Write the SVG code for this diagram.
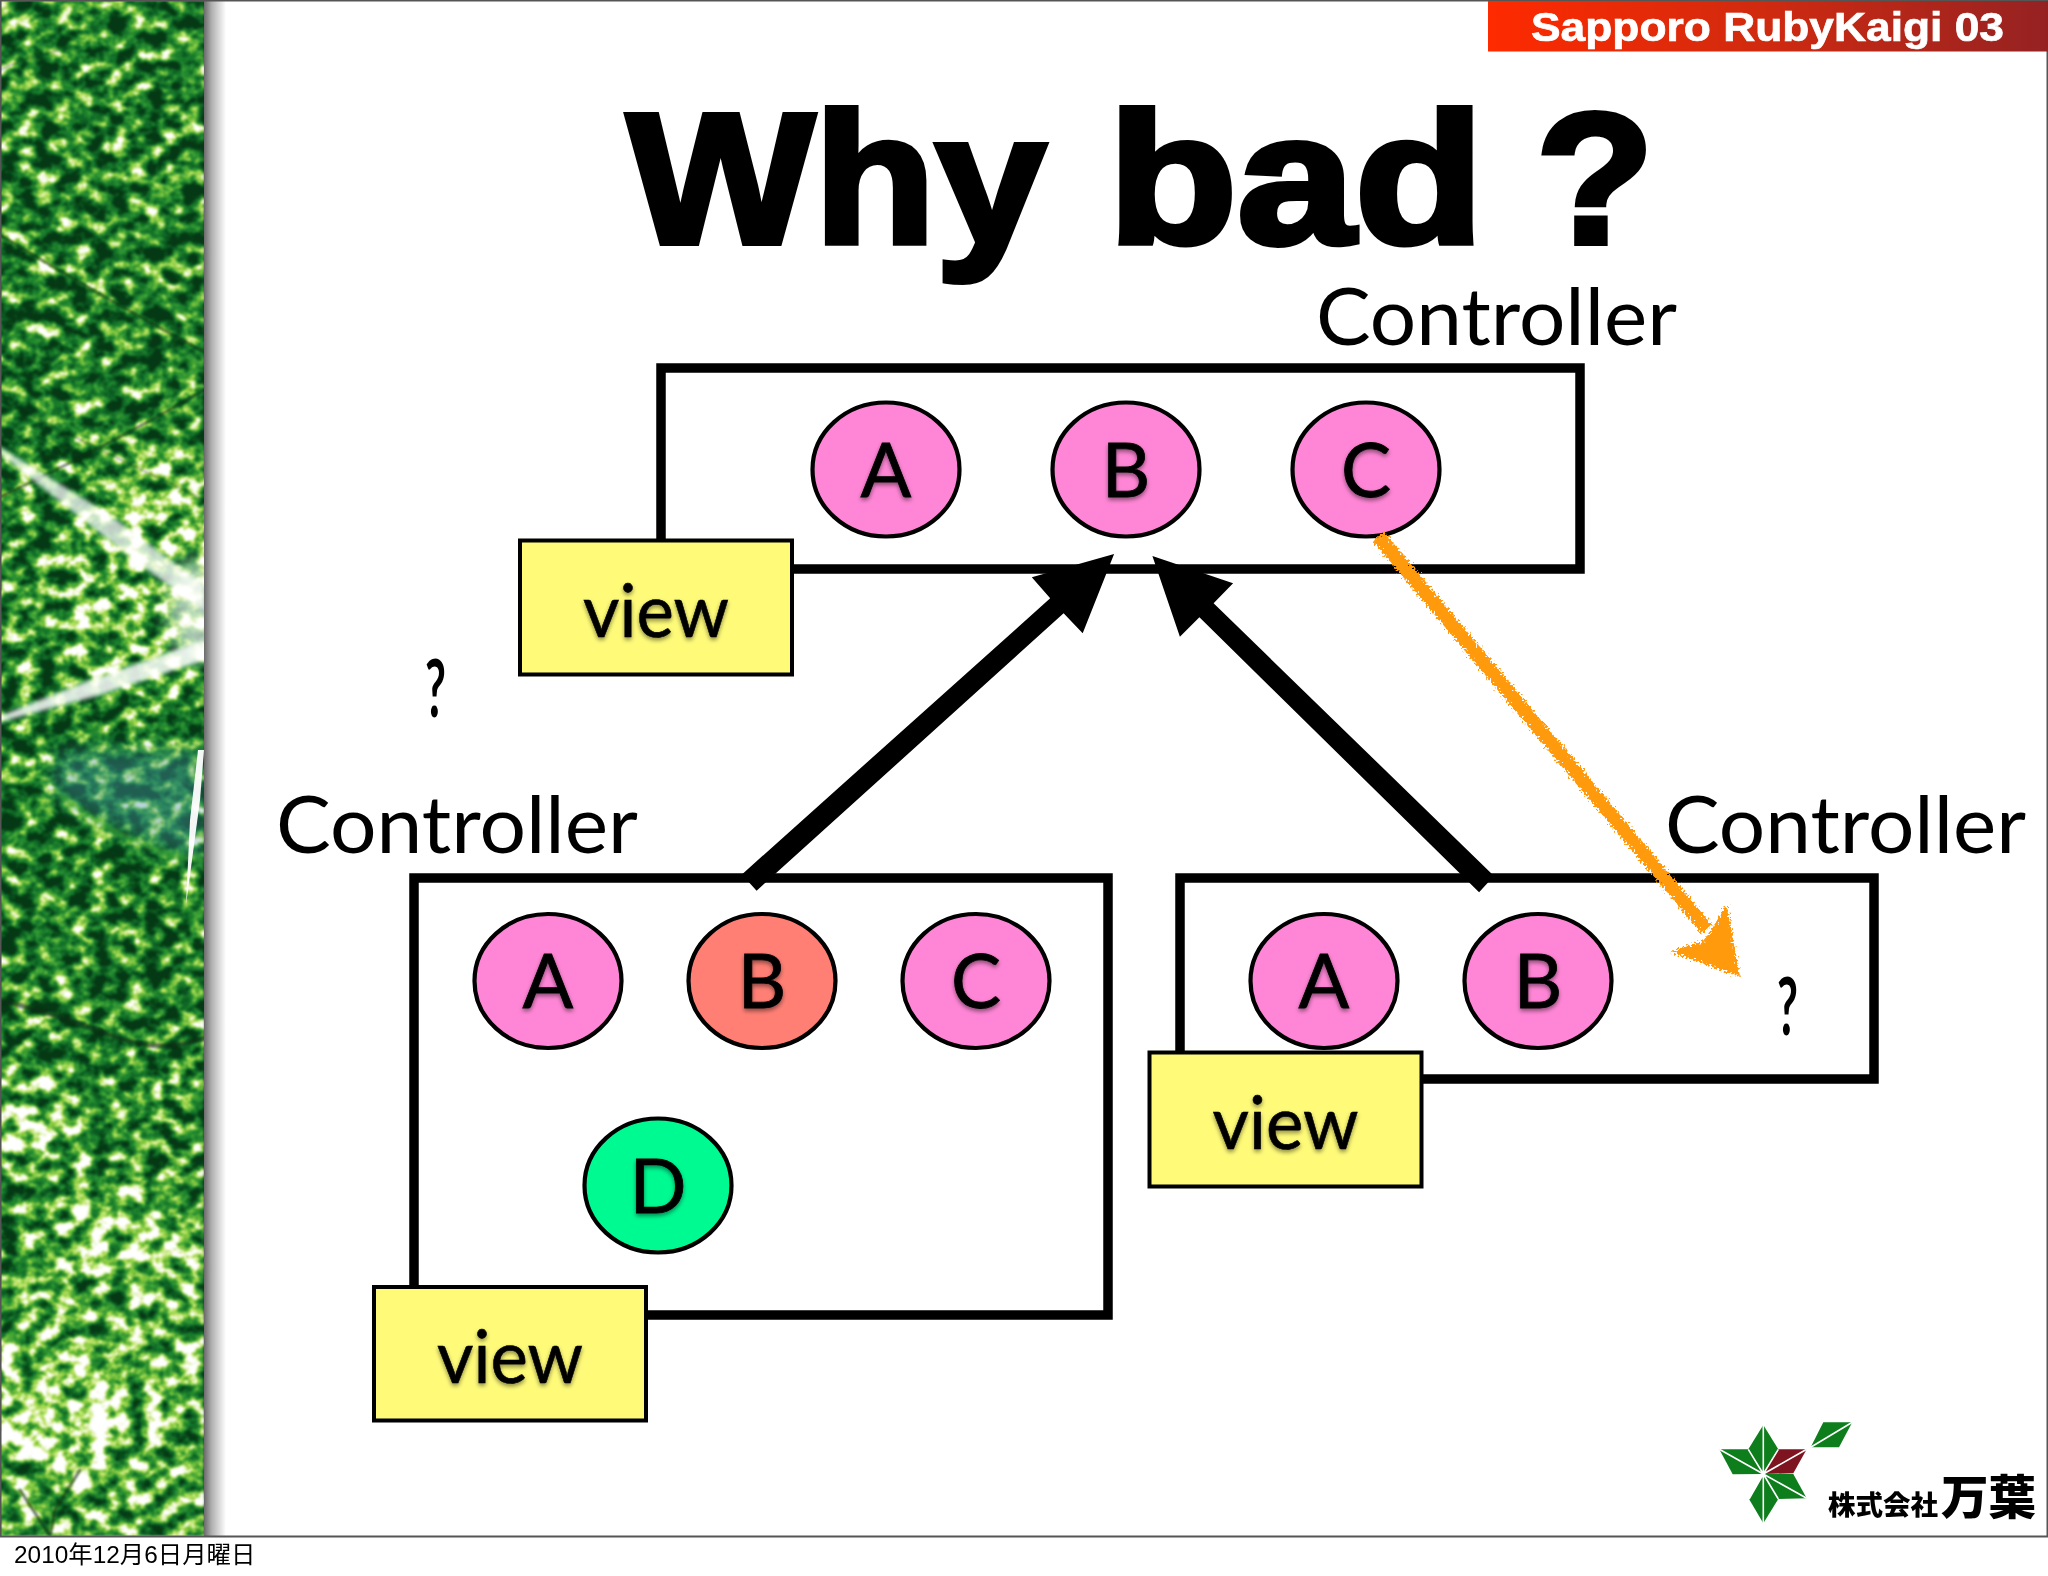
<svg xmlns="http://www.w3.org/2000/svg" width="2048" height="1576" viewBox="0 0 2048 1576">
<style>
.box{fill:none;stroke:#000;stroke-width:9.5}
.bub{stroke:#000;stroke-width:4.2}
.pink{fill:#ff86d6}.red{fill:#ff7f75}.green{fill:#00fa92}
.vw{fill:#fffb79;stroke:#000;stroke-width:4}
.let{font-family:Lato,"Open Sans",sans-serif;font-size:75px;text-anchor:middle;fill:#000;stroke:#000;stroke-width:.8;filter:url(#ts)}
.vt{font-family:Lato,"Open Sans",sans-serif;font-size:74px;text-anchor:middle;fill:#000;stroke:#000;stroke-width:.6;filter:url(#ts)}
.ctl{font-family:Lato,"Open Sans",sans-serif;font-size:80px;fill:#000}
.q{font-family:Lato,"Open Sans",sans-serif;font-size:80px;fill:#000}
.leaf{fill:#0e7d1c}
.lw{stroke:#fff;stroke-width:1.6;fill:none}
</style>
<defs>
<linearGradient id="shade" x1="0" x2="1" y1="0" y2="0"><stop offset="0" stop-color="#6a6a6a"/><stop offset=".35" stop-color="#b0b0b0"/><stop offset="1" stop-color="#fff"/></linearGradient>
<linearGradient id="ban" x1="0" x2="1" y1="0" y2="0"><stop offset="0" stop-color="#ff2a00"/><stop offset=".5" stop-color="#cf2a10"/><stop offset="1" stop-color="#952222"/></linearGradient>
<linearGradient id="bias" x1="0" x2="0" y1="0" y2="1">
<stop offset="0" stop-color="#6c6c6c"/><stop offset=".2" stop-color="#666"/><stop offset=".36" stop-color="#6a6a6a"/><stop offset=".5" stop-color="#646464"/><stop offset=".62" stop-color="#686868"/><stop offset=".76" stop-color="#787878"/><stop offset=".9" stop-color="#a8a8a8"/><stop offset="1" stop-color="#949494"/>
</linearGradient>
<filter id="foliage" x="0" y="0" width="1" height="1" color-interpolation-filters="sRGB">
<feTurbulence type="fractalNoise" baseFrequency="0.055 0.065" numOctaves="4" seed="11" result="n"/>
<feColorMatrix in="n" type="matrix" values="1 0 0 0 0 1 0 0 0 0 1 0 0 0 0 0 0 0 0 1" result="g"/>
<feComposite in="g" in2="SourceGraphic" operator="arithmetic" k1="0" k2="2.3" k3="1" k4="-1.2" result="m"/>
<feComponentTransfer result="c">
<feFuncR type="table" tableValues=".02 .03 .05 .08 .12 .2 .36 .55 .75 .92 1"/>
<feFuncG type="table" tableValues=".22 .3 .37 .45 .52 .6 .7 .8 .9 .96 1"/>
<feFuncB type="table" tableValues=".08 .1 .14 .16 .18 .2 .22 .26 .4 .8 1"/>
</feComponentTransfer>
<feGaussianBlur stdDeviation="1.1"/>
</filter>
<filter id="soft" x="-20%" y="-20%" width="140%" height="140%"><feGaussianBlur stdDeviation="18"/></filter>
<filter id="b1" x="-5%" y="-5%" width="110%" height="110%"><feGaussianBlur stdDeviation=".8"/></filter>
<filter id="b2" x="-20%" y="-20%" width="140%" height="140%"><feGaussianBlur stdDeviation="2"/></filter>
<filter id="b6" x="-30%" y="-30%" width="160%" height="160%"><feGaussianBlur stdDeviation="9"/></filter>
<filter id="b12" x="-30%" y="-30%" width="160%" height="160%"><feGaussianBlur stdDeviation="10"/></filter>
<filter id="ts" x="-10%" y="-10%" width="120%" height="130%"><feDropShadow dx="0" dy="2.5" stdDeviation="2" flood-color="#000" flood-opacity=".45"/></filter>
<filter id="rough" x="-10%" y="-10%" width="120%" height="120%"><feTurbulence type="fractalNoise" baseFrequency=".5" numOctaves="2" seed="4"/><feDisplacementMap in="SourceGraphic" scale="11" xChannelSelector="R" yChannelSelector="G"/></filter>
<clipPath id="photoClip"><rect x="0" y="1" width="204" height="1535"/></clipPath>
</defs>
<rect width="2048" height="1576" fill="#fff"/>
<g id="slide-frame">
<rect x="204" y="1" width="22" height="1535" fill="url(#shade)"/>
<g clip-path="url(#photoClip)">
<g id="photo" filter="url(#foliage)">
<rect x="0" y="0" width="204" height="1536" fill="url(#bias)"/>
<g filter="url(#soft)">
<ellipse cx="160" cy="570" rx="80" ry="130" fill="#b4b4b4"/>
<ellipse cx="130" cy="640" rx="70" ry="40" fill="#a8a8a8"/>
<ellipse cx="35" cy="610" rx="45" ry="40" fill="#8c8c8c"/>
<ellipse cx="25" cy="1125" rx="45" ry="30" fill="#f4f4f4"/>
<ellipse cx="125" cy="1240" rx="70" ry="45" fill="#c8c8c8"/>
<ellipse cx="60" cy="1425" rx="70" ry="40" fill="#e8e8e8"/>
<ellipse cx="80" cy="1350" rx="50" ry="30" fill="#b0b0b0"/>
<ellipse cx="130" cy="960" rx="70" ry="50" fill="#5c5c5c"/>
<ellipse cx="100" cy="100" rx="70" ry="30" fill="#707070"/>
</g>
</g>
<g id="branches" fill="none" stroke="#0a2a12" stroke-linecap="round" opacity=".6" filter="url(#b1)">
<path d="M0 235 Q90 290 204 352" stroke-width="2.5"/>
<path d="M0 400 Q80 440 204 500" stroke-width="1.5" opacity=".6"/>
<path d="M0 497 Q110 445 204 390" stroke-width="2.5"/>
<path d="M0 1000 Q60 1015 110 1035 T204 1038" stroke-width="5"/>
<path d="M20 1490 L50 1536M80 1470 L55 1510 L50 1536" stroke-width="3"/>
<path d="M60 50 Q20 60 0 70" stroke-width="2" opacity=".5"/>
</g>
<path d="M50 790 Q120 840 204 860 L204 750 L60 750Z" fill="#4d9ab0" opacity=".4" filter="url(#b12)"/>
<path d="M60 795 Q130 850 204 862" fill="none" stroke="#3ea82e" stroke-width="4" opacity=".7" filter="url(#b2)"/>
<g id="rays" fill="#fff">
<polygon points="0,447 0,454 140,565 204,610 204,585 110,515" opacity=".75" filter="url(#b2)"/>
<polygon points="0,716 0,722 100,695 204,660 204,640 90,680" opacity=".85" filter="url(#b2)"/>
<polygon points="198,750 204,750 200,800 186,905 190,820" opacity=".95"/>
<ellipse cx="195" cy="610" rx="26" ry="50" opacity=".65" filter="url(#b6)"/>
</g>
</g>
<rect x="0" y="0" width="2048" height="1.5" fill="#555"/>
<rect x="0" y="1535.5" width="2048" height="2" fill="#555"/>
<rect x="0" y="0" width="1.5" height="1536" fill="#555"/>
<rect x="2046.5" y="0" width="1.5" height="1536" fill="#555"/>
</g>
<g id="banner">
<rect x="1488" y="1" width="560" height="50.5" fill="url(#ban)"/>
<text x="1531" y="41" font-family="'Liberation Sans',Arial,sans-serif" font-weight="700" font-size="40" fill="#fff" stroke="#fff" stroke-width=".7" textLength="473" lengthAdjust="spacingAndGlyphs">Sapporo RubyKaigi 03</text>
</g>
<text id="title" y="243" font-family="'Liberation Sans',Arial,sans-serif" font-weight="700" font-size="186" fill="#000" stroke="#000" stroke-width="6"><tspan x="627" textLength="419" lengthAdjust="spacingAndGlyphs">Why</tspan> <tspan x="1108" textLength="376" lengthAdjust="spacingAndGlyphs">bad</tspan> <tspan x="1536" textLength="118" lengthAdjust="spacingAndGlyphs">?</tspan></text>
<g id="controller-top">
<text class="ctl" x="1316" y="345" textLength="361" lengthAdjust="spacingAndGlyphs">Controller</text>
<rect class="box" x="661" y="368" width="919" height="201"/>
</g>
<g id="controller-left">
<text class="ctl" x="276" y="853" textLength="362" lengthAdjust="spacingAndGlyphs">Controller</text>
<rect class="box" x="414" y="878" width="694" height="437"/>
</g>
<g id="controller-right">
<text class="ctl" x="1665" y="853" textLength="361" lengthAdjust="spacingAndGlyphs">Controller</text>
<rect class="box" x="1180" y="878" width="694" height="201"/>
</g>
<g id="top-a"><ellipse class="bub pink" cx="886" cy="469.5" rx="73.5" ry="67"/><text class="let" x="886" y="496.5">A</text></g>
<g id="top-b"><ellipse class="bub pink" cx="1126" cy="469.5" rx="73.5" ry="67"/><text class="let" x="1126" y="496.5">B</text></g>
<g id="top-c"><ellipse class="bub pink" cx="1366" cy="469.5" rx="73.5" ry="67"/><text class="let" x="1366" y="496.5">C</text></g>
<g id="top-view"><rect class="vw" x="520" y="540.5" width="272" height="134"/><text class="vt" x="656" y="637" textLength="146" lengthAdjust="spacingAndGlyphs">view</text></g>
<g id="left-a"><ellipse class="bub pink" cx="548" cy="981" rx="73.5" ry="67"/><text class="let" x="548" y="1008">A</text></g>
<g id="left-b"><ellipse class="bub red" cx="762" cy="981" rx="73.5" ry="67"/><text class="let" x="762" y="1008">B</text></g>
<g id="left-c"><ellipse class="bub pink" cx="976" cy="981" rx="73.5" ry="67"/><text class="let" x="976" y="1008">C</text></g>
<g id="left-d"><ellipse class="bub green" cx="658" cy="1185.5" rx="73.5" ry="67"/><text class="let" x="658" y="1212.5">D</text></g>
<g id="left-view"><rect class="vw" x="374" y="1287" width="272" height="133.5"/><text class="vt" x="510" y="1382.5" textLength="146" lengthAdjust="spacingAndGlyphs">view</text></g>
<g id="right-a"><ellipse class="bub pink" cx="1324" cy="981" rx="73.5" ry="67"/><text class="let" x="1324" y="1008">A</text></g>
<g id="right-b"><ellipse class="bub pink" cx="1538" cy="981" rx="73.5" ry="67"/><text class="let" x="1538" y="1008">B</text></g>
<g id="right-view"><rect class="vw" x="1149.5" y="1052.5" width="272" height="134"/><text class="vt" x="1285.5" y="1149" textLength="146" lengthAdjust="spacingAndGlyphs">view</text></g>
<g id="questions">
<text class="q" x="425" y="717" font-weight="700" textLength="21" lengthAdjust="spacingAndGlyphs">?</text>
<text class="q" x="1777" y="1035" font-weight="700" textLength="21" lengthAdjust="spacingAndGlyphs">?</text>
</g>
<g id="connectors">
<polygon points="741.9,874.4 1050.2,598.3 1031.8,577.3 1114.1,554 1082.7,633.3 1063.6,613.3 756.6,890.7" fill="#000"/>
<polygon points="1494,876 1213.6,603.3 1233.1,583.3 1152.4,556 1179.9,636.7 1199.4,617.3 1479.1,892.3" fill="#000"/>
<g filter="url(#rough)" fill="#ff9a0e">
<polygon points="1373,541 1384,532 1712,925 1702,934"/>
<polygon points="1740,977 1670.5,951.6 1704,941 1726.7,905"/>
</g>
</g>
<g id="logo">
<polygon class="leaf" points="1719.3,1449.3 1748.3,1449.3 1763.3,1474 1732.7,1474.3"/>
<polygon class="leaf" points="1763.3,1425 1778.3,1449.3 1763.3,1474 1748.3,1449.3"/>
<polygon fill="#7d1420" points="1778.3,1449.3 1806.7,1449.3 1793.3,1473.3 1763.3,1474"/>
<polygon class="leaf" points="1763.3,1474 1793.3,1474 1806.7,1498.3 1778.3,1499"/>
<polygon class="leaf" points="1763.3,1474 1778.3,1499 1763.3,1523.3 1749,1499"/>
<polygon class="leaf" points="1823.3,1422.3 1852.3,1422.3 1839,1447.3 1810.7,1447.3"/>
<path class="lw" d="M1719.3 1449.3L1763.3 1474M1748.3 1449.3L1763.3 1474M1763.3 1425V1523.3M1806.7 1449.3L1763.3 1474M1806.7 1498.3L1763.3 1474M1778.3 1449.3L1763.3 1474M1778.3 1499L1763.3 1474M1749 1499L1763.3 1474M1810.7 1447.3L1852.3 1422.3"/>
<text x="1828" y="1515" font-family="'Noto Sans CJK JP',sans-serif" font-weight="900" font-size="27" textLength="110" lengthAdjust="spacingAndGlyphs" fill="#000">株式会社</text>
<text x="1941" y="1514" font-family="'Noto Sans CJK JP',sans-serif" font-weight="900" font-size="47" textLength="95" lengthAdjust="spacingAndGlyphs" fill="#000">万葉</text>
</g>
<text id="date" x="14" y="1562.5" font-family="'Liberation Sans','Noto Sans CJK JP',sans-serif" font-size="24.4" fill="#000">2010年12月6日月曜日</text>
</svg>
